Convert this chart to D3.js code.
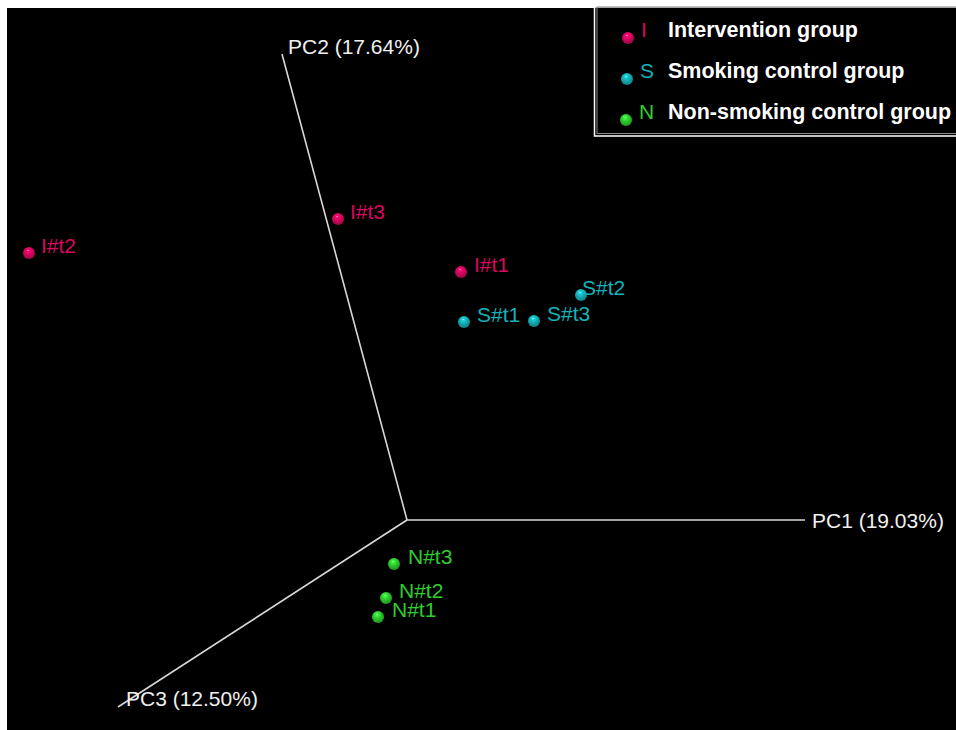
<!DOCTYPE html>
<html>
<head>
<meta charset="utf-8">
<script src="https://cdn.jsdelivr.net/npm/d3@7"></script>
<style>
  body { margin: 0; background: #fff; }
  svg { display: block; }
</style>
</head>
<body>
<script>
// Size of the page and the black plot panel
let w = 956;
let h = 730;

// Projected coordinates (origin of the PC axes = 0,0)
const pointNames  = ["I#t2", "I#t3", "I#t1", "S#t2", "S#t1", "S#t3", "N#t3", "N#t2", "N#t1"];
const pointGroups = ["I", "I", "I", "S", "S", "S", "N", "N", "N"];
const pointX = [-3.78, -0.69, 0.54, 1.74, 0.57, 1.27, -0.13, -0.21, -0.29];
const pointY = [ 2.67,  3.01, 2.48, 2.25, 1.98, 1.99, -0.44, -0.78, -0.97];
const labelDx = [12, 12, 13, 1, 13, 13, 14, 13, 14];

// Axis ends in the same projected units
const axisNames = ["PC1 (19.03%)", "PC2 (17.64%)", "PC3 (12.50%)"];
const axisEndX = [3.98, -1.25, -2.89];
const axisEndY = [0, 4.66, -1.87];

// Legend
const groupKeys   = ["I", "S", "N"];
const groupLabels = ["Intervention group", "Smoking control group", "Non-smoking control group"];
const groupColors = ["#d8075f", "#16b0b8", "#2fcd2f"];

let x = d3.scaleLinear().domain([-4, 5.49]).range([7, 956]);
let y = d3.scaleLinear().domain([-2.1, 5.12]).range([730, 8]);
let color = d3.scaleOrdinal().domain(groupKeys).range(groupColors);

let svg = d3.select("body").append("svg")
    .attr("width", w)
    .attr("height", h);

// sphere-like gradients for the points
let defs = svg.append("defs");
groupKeys.forEach(function (k, i) {
    let g = defs.append("radialGradient")
        .attr("id", "ball" + k)
        .attr("cx", "45%").attr("cy", "35%").attr("r", "65%")
        .attr("fx", "42%").attr("fy", "28%");
    g.append("stop").attr("offset", "0%").attr("stop-color", "#ffffff");
    g.append("stop").attr("offset", "12%").attr("stop-color", d3.color(groupColors[i]).brighter(0.6));
    g.append("stop").attr("offset", "45%").attr("stop-color", groupColors[i]);
    g.append("stop").attr("offset", "100%").attr("stop-color", d3.color(groupColors[i]).darker(0.9));
});

svg.append("rect")
    .attr("x", 7).attr("y", 8)
    .attr("width", w - 7).attr("height", h - 8)
    .attr("fill", "#000");

// PC axes
svg.selectAll(".axis").data(axisNames).enter().append("line")
    .attr("class", "axis")
    .attr("x1", x(0)).attr("y1", y(0))
    .attr("x2", (d, i) => x(axisEndX[i]))
    .attr("y2", (d, i) => y(axisEndY[i]))
    .attr("stroke", "#d8d8d8")
    .attr("stroke-width", 1.6);

let axisLabelDx = [7, 6, 8];
let axisLabelDy = [8, 0, -1];
svg.selectAll(".axislabel").data(axisNames).enter().append("text")
    .attr("x", (d, i) => x(axisEndX[i]) + axisLabelDx[i])
    .attr("y", (d, i) => y(axisEndY[i]) + axisLabelDy[i])
    .attr("fill", "#f0f0f0")
    .attr("font-family", "Liberation Sans, Arial, sans-serif")
    .attr("font-size", 21)
    .text(d => d);

// points
let pts = pointNames.map((n, i) => ({name: n, group: pointGroups[i], x: pointX[i], y: pointY[i], dx: labelDx[i]}));

svg.selectAll(".pt").data(pts).enter().append("circle")
    .attr("cx", d => x(d.x))
    .attr("cy", d => y(d.y))
    .attr("r", 6)
    .attr("fill", d => "url(#ball" + d.group + ")");

svg.selectAll(".ptlabel").data(pts).enter().append("text")
    .attr("x", d => x(d.x) + d.dx)
    .attr("y", d => y(d.y))
    .attr("fill", d => color(d.group))
    .attr("font-family", "Liberation Sans, Arial, sans-serif")
    .attr("font-size", 21)
    .text(d => d.name);

// legend box
let legend = svg.append("g");
legend.append("rect")
    .attr("x", 594.5).attr("y", 7)
    .attr("width", 400).attr("height", 129)
    .attr("fill", "#000")
    .attr("stroke", "#ffffff")
    .attr("stroke-width", 1.5);
legend.append("rect")
    .attr("x", 597).attr("y", 7)
    .attr("width", 400).attr("height", 126.5)
    .attr("fill", "none")
    .attr("stroke", "#888")
    .attr("stroke-width", 1);

let legY = d3.scalePoint().domain(groupKeys).range([38, 120]);
let items = legend.selectAll(".item").data(groupKeys).enter().append("g");
items.append("circle")
    .attr("cx", (d, i) => 628 - i)
    .attr("cy", d => legY(d))
    .attr("r", 6)
    .attr("fill", d => "url(#ball" + d + ")");
items.append("text")
    .attr("x", (d, i) => 641 - i)
    .attr("y", d => legY(d) - 1)
    .attr("fill", d => color(d))
    .attr("font-family", "Liberation Sans, Arial, sans-serif")
    .attr("font-size", 21)
    .text(d => d);
items.append("text")
    .attr("x", 668)
    .attr("y", d => legY(d) - 1)
    .attr("fill", "#fff")
    .attr("font-family", "Liberation Sans, Arial, sans-serif")
    .attr("font-weight", "bold")
    .attr("font-size", 21.5)
    .text((d, i) => groupLabels[i]);
</script>
</body>
</html>
